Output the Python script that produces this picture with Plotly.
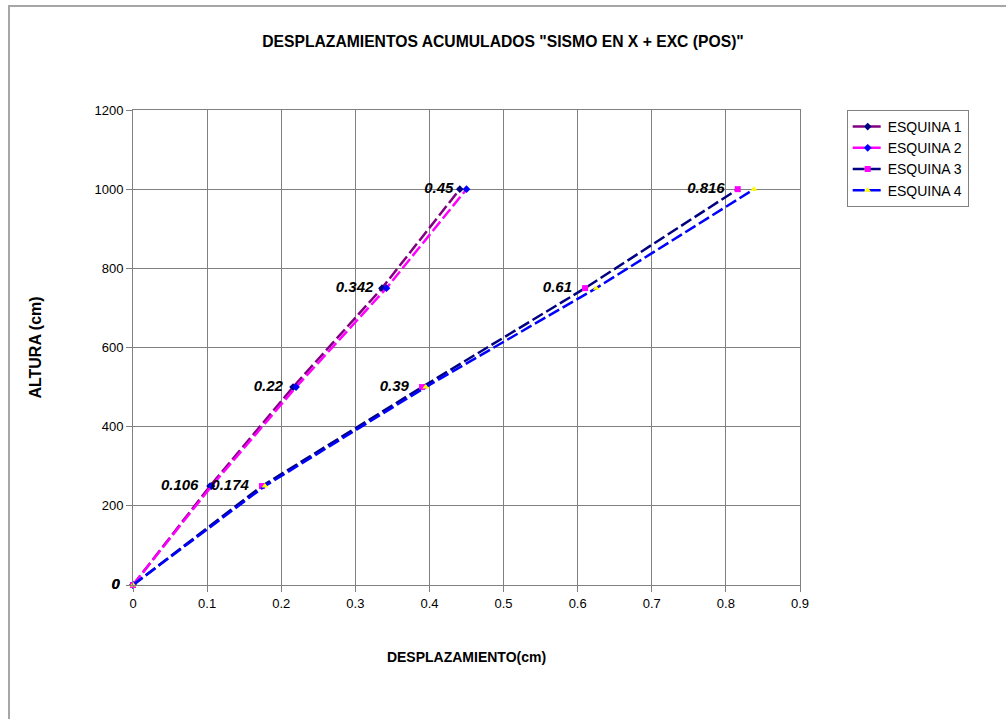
import plotly.graph_objects as go

alturas = [0, 250, 500, 750, 1000]
esquina1 = [0, 0.104, 0.216, 0.336, 0.441]
esquina2 = [0, 0.106, 0.22, 0.342, 0.45]
esquina3 = [0, 0.174, 0.39, 0.61, 0.816]
esquina4 = [0, 0.178, 0.395, 0.625, 0.838]
nombres = ["ESQUINA 1", "ESQUINA 2", "ESQUINA 3", "ESQUINA 4"]
etiquetas2 = ["0", "0.106", "0.22", "0.342", "0.45"]
etiquetas3 = ["0", "0.174", "0.39", "0.61", "0.816"]
x_ticks = [0, 0.1, 0.2, 0.3, 0.4, 0.5, 0.6, 0.7, 0.8, 0.9]
x_ticktext = ["0", "0.1", "0.2", "0.3", "0.4", "0.5", "0.6", "0.7", "0.8", "0.9"]
y_ticks = [0, 200, 400, 600, 800, 1000, 1200]
y_ticktext = ["", "200", "400", "600", "800", "1000", "1200"]

FONT = "Arial, 'Liberation Sans', sans-serif"
DASH = "12px,4px"

series = [
    (esquina1, "#800080", "#000080", "diamond", None),
    (esquina2, "#FF00FF", "#0000FF", "diamond", etiquetas2),
    (esquina3, "#000080", "#FF00FF", "square", etiquetas3),
    (esquina4, "#0000FF", "#FFFF00", "triangle-up", None),
]

fig = go.Figure()
for (vals, lc, mc, sym, labels), name in zip(series, nombres):
    fig.add_trace(go.Scatter(
        x=vals, y=alturas, name=name,
        mode="lines+markers+text" if labels else "lines+markers",
        text=labels, texttemplate="%{text}  " if labels else None,
        textposition="middle left",
        textfont=dict(family=FONT, size=15, color="black", weight="bold", style="italic"),
        line=dict(color=lc, width=2.5, dash=DASH),
        marker=dict(color=mc, symbol=sym, size=6, line=dict(width=0)),
        cliponaxis=False,
    ))

fig.update_layout(
    width=1006, height=719,
    margin=dict(l=133, r=206, t=110, b=134),
    paper_bgcolor="white", plot_bgcolor="white",
    font=dict(family=FONT, size=12, color="black"),
    title=dict(text='DESPLAZAMIENTOS ACUMULADOS "SISMO EN X + EXC (POS)"',
               x=0.5, xanchor="center", y=1 - 42/719, yanchor="middle",
               font=dict(family=FONT, size=15.7, color="black", weight="bold")),
    showlegend=True,
    legend=dict(x=1.07, y=1.0, xanchor="left", yanchor="top",
                bgcolor="white", bordercolor="#808080", borderwidth=1,
                font=dict(family=FONT, size=14, color="black"),
                tracegroupgap=0),
    xaxis=dict(range=[0, 0.9], tickvals=x_ticks, ticktext=x_ticktext,
               showgrid=True, gridcolor="#808080", gridwidth=1,
               showline=True, linecolor="#808080", linewidth=1, mirror=True,
               ticks="outside", ticklen=6, tickcolor="#808080",
               zeroline=False, tickfont=dict(family=FONT, size=13),
               title=dict(text="DESPLAZAMIENTO(cm)", standoff=42,
                          font=dict(family=FONT, size=14, weight="bold"))),
    yaxis=dict(range=[0, 1200], tickvals=y_ticks, ticktext=y_ticktext,
               showgrid=True, gridcolor="#808080", gridwidth=1,
               showline=True, linecolor="#808080", linewidth=1, mirror=True,
               ticks="outside", ticklen=6, tickcolor="#808080",
               zeroline=False, tickfont=dict(family=FONT, size=13),
               title=dict(text="ALTURA (cm)", standoff=48,
                          font=dict(family=FONT, size=16, weight="bold"))),
    shapes=[dict(type="rect", xref="paper", yref="paper",
                 x0=(9-133)/667, x1=(1010-133)/667,
                 y0=(585-725)/475, y1=(585-6)/475,
                 line=dict(color="#a6a6a6", width=2), fillcolor="rgba(0,0,0,0)",
                 layer="below")],
)

fig.write_html("out.html")
